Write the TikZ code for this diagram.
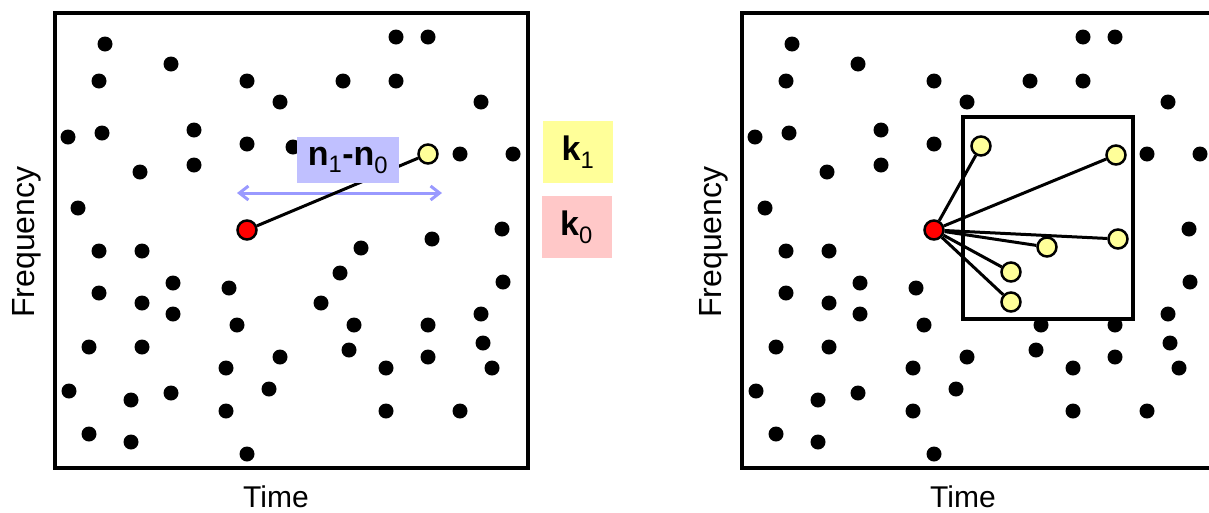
\documentclass[tikz,border=0pt]{standalone}
\usepackage{fontspec}
\setmainfont{Liberation Sans}
\usetikzlibrary{arrows.meta}
\definecolor{candfill}{HTML}{FFFF99}
\definecolor{kone}{HTML}{FFFF99}
\definecolor{kzero}{HTML}{FFC8C8}
\definecolor{nbox}{HTML}{C0C0FF}
\definecolor{narrow}{HTML}{9999FF}
\begin{document}
\begin{tikzpicture}[x=1pt,y=-1pt,
  dot/.style={circle,fill=black,inner sep=0pt,minimum size=15pt},
  seed/.style={circle,fill=red,draw=black,line width=2.5pt,inner sep=0pt,minimum size=19pt},
  cand/.style={seed,fill=candfill},
  frame/.style={draw=black,line width=4pt,inner sep=0pt,minimum width=473pt,minimum height=455pt},
  zone/.style={draw=black,line width=3.5pt},
  link/.style={draw=black,line width=3pt},
  axis/.style={font=\fontsize{30pt}{36pt}\selectfont},
  vaxis/.style={font=\fontsize{32pt}{38pt}\selectfont,rotate=90},
  tag/.style={font=\fontsize{34pt}{40pt}\selectfont\bfseries,inner sep=0pt,minimum width=70pt,minimum height=62pt},
  span/.style={draw=narrow,line width=3pt,{Straight Barb[length=9pt,width=14pt]}-{Straight Barb[length=9pt,width=14pt]}}]
\useasboundingbox (0,0) rectangle (1209,512);
\clip (0,0) rectangle (1209,512);
\def\common{105/44,99/81,171/64,247/81,280/102,68/137,102/133,194/130,194/165,247/144,140/172,78/208,99/251,142/251,396/37,428/37,343/81,396/81,481/102,460/154,513/154,502/229,99/293,142/303,173/283,173/314,229/288,237/325,89/347,142/347,226/368,280/357,69/391,131/400,171/393,269/389,226/411,89/434,131/442,247/454,354/325,349/350,503/282,481/314,483/343,492/368,428/325,428/357,386/368,386/411,460/411}
% ---------- left panel ----------
\node[frame] (LF) at (291.5,240.5) {};
\foreach \x/\y [count=\i] in \common { \node[dot] (L\i) at (\x,\y) {}; }
\foreach \x/\y [count=\i] in {293/147,432/239,361/248,340/273,321/303} { \node[dot] (LX\i) at (\x,\y) {}; }
\coordinate (AL) at (237,193);
\coordinate (AR) at (442,193);
\draw[span] (AL) -- (AR);
\node[seed] (L0) at (247,230) {};
\node[cand] (L1y) at (428,154) {};
\draw[link] (L0) -- (L1y);
\node[tag,fill=nbox,minimum width=102pt,minimum height=46pt] (NB) at (348,160) {n\textsubscript{\mdseries 1}-n\textsubscript{\mdseries 0}};
\node[tag,fill=kone] (K1) at (578,152) {k\textsubscript{\mdseries 1}};
\node[tag,fill=kzero] (K0) at (576.5,227) {k\textsubscript{\mdseries 0}};
\node[axis] (LT) at (276,497) {Time};
\node[vaxis] (LQ) at (27,242) {Frequency};
% ---------- right panel ----------
\begin{scope}[xshift=687pt]
\node[frame] (RF) at (291.5,240.5) {};
\foreach \x/\y [count=\i] in \common { \node[dot] (R\i) at (\x,\y) {}; }
\node[zone,minimum width=170pt,minimum height=202pt,inner sep=0pt] (RZ) at (361,218) {};
\node[seed] (R0) at (247,230) {};
\foreach \x/\y [count=\i] in {294/146,429/155,431/239,360/247,324/272,324/302} {
  \node[cand] (Y\i) at (\x,\y) {};
  \draw[link] (R0) -- (Y\i);
}
\node[axis] (RT) at (276,497) {Time};
\node[vaxis] (RQ) at (27,242) {Frequency};
\end{scope}
\end{tikzpicture}
\end{document}
